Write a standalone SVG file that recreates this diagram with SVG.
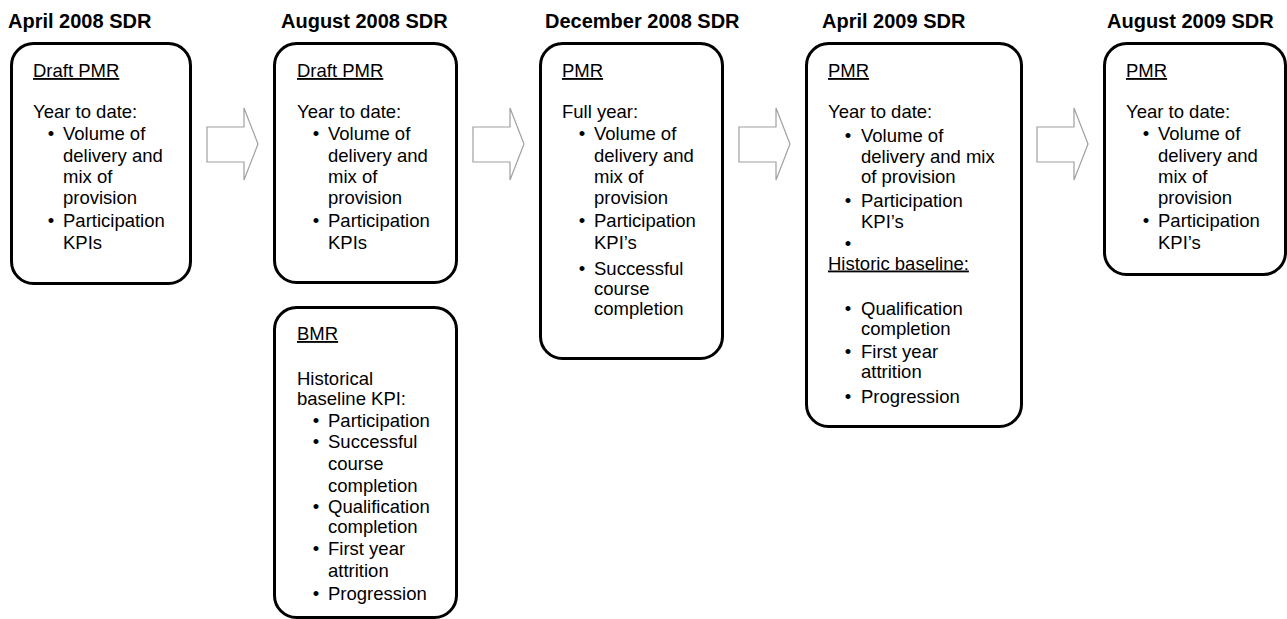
<svg xmlns="http://www.w3.org/2000/svg" width="1287" height="619" viewBox="0 0 1287 619">
  <style>
    .title { font-family: "Liberation Sans", Arial, sans-serif; font-weight: bold; font-size: 20px; fill: #000; }
    .t { font-family: "Liberation Sans", Arial, sans-serif; font-size: 18.5px; fill: #000; }
    .u { text-decoration: underline; }
    .b { text-anchor: middle; }
    .box { fill: #fff; stroke: #000; stroke-width: 3; }
    .arrow { fill: #fff; stroke: #a0a0a0; stroke-width: 1.2; stroke-linejoin: miter; }
  </style>
  <rect width="1287" height="619" fill="#fff"/>

  <!-- stage titles -->
  <g id="titles">
    <text class="title" x="8" y="28">April 2008 SDR</text>
    <text class="title" x="281" y="28">August 2008 SDR</text>
    <text class="title" x="545" y="28">December 2008 SDR</text>
    <text class="title" x="822" y="28">April 2009 SDR</text>
    <text class="title" x="1107" y="28">August 2009 SDR</text>
  </g>

  <!-- block arrows between stages -->
  <g id="connectors">
    <path class="arrow" d="M207,127 H244 V108 L258,144 L244,180 V162 H207 Z"/>
    <path class="arrow" d="M473,127 H510 V108 L524,144 L510,180 V162 H473 Z"/>
    <path class="arrow" d="M739,127 H776 V108 L790,144 L776,180 V162 H739 Z"/>
    <path class="arrow" d="M1037,127 H1074 V108 L1088,144 L1074,180 V162 H1037 Z"/>
  </g>

  <!-- April 2008: draft PMR -->
  <g id="apr2008-pmr">
    <rect class="box" x="11.5" y="43.5" width="179" height="240" rx="22"/>
    <text class="t u" x="33" y="77">Draft PMR</text>
    <text class="t" x="33" y="118">Year to date:</text>
    <text class="t b" x="51" y="140">•</text>
    <text class="t" x="63" y="140">Volume of</text>
    <text class="t" x="63" y="161.5">delivery and</text>
    <text class="t" x="63" y="183">mix of</text>
    <text class="t" x="63" y="204">provision</text>
    <text class="t b" x="51" y="227">•</text>
    <text class="t" x="63" y="227">Participation</text>
    <text class="t" x="63" y="248.5">KPIs</text>
  </g>

  <!-- August 2008: draft PMR -->
  <g id="aug2008-pmr">
    <rect class="box" x="274.5" y="43.5" width="182" height="239" rx="22"/>
    <text class="t u" x="297" y="77">Draft PMR</text>
    <text class="t" x="297" y="118">Year to date:</text>
    <text class="t b" x="316" y="140">•</text>
    <text class="t" x="328" y="140">Volume of</text>
    <text class="t" x="328" y="161.5">delivery and</text>
    <text class="t" x="328" y="183">mix of</text>
    <text class="t" x="328" y="204">provision</text>
    <text class="t b" x="316" y="227">•</text>
    <text class="t" x="328" y="227">Participation</text>
    <text class="t" x="328" y="248.5">KPIs</text>
  </g>

  <!-- August 2008: BMR -->
  <g id="aug2008-bmr">
    <rect class="box" x="274.5" y="307.5" width="182" height="310" rx="22"/>
    <text class="t u" x="297" y="340">BMR</text>
    <text class="t" x="297" y="385">Historical</text>
    <text class="t" x="297" y="405">baseline KPI:</text>
    <text class="t b" x="316" y="426.5">•</text>
    <text class="t" x="328" y="426.5">Participation</text>
    <text class="t b" x="316" y="448">•</text>
    <text class="t" x="328" y="448">Successful</text>
    <text class="t" x="328" y="470">course</text>
    <text class="t" x="328" y="491.5">completion</text>
    <text class="t b" x="316" y="513">•</text>
    <text class="t" x="328" y="513">Qualification</text>
    <text class="t" x="328" y="533">completion</text>
    <text class="t b" x="316" y="555">•</text>
    <text class="t" x="328" y="555">First year</text>
    <text class="t" x="328" y="576.5">attrition</text>
    <text class="t b" x="316" y="600">•</text>
    <text class="t" x="328" y="600">Progression</text>
  </g>

  <!-- December 2008: PMR -->
  <g id="dec2008-pmr">
    <rect class="box" x="540.5" y="43.5" width="182" height="315" rx="22"/>
    <text class="t u" x="562" y="77">PMR</text>
    <text class="t" x="562" y="118">Full year:</text>
    <text class="t b" x="582" y="140">•</text>
    <text class="t" x="594" y="140">Volume of</text>
    <text class="t" x="594" y="161.5">delivery and</text>
    <text class="t" x="594" y="183">mix of</text>
    <text class="t" x="594" y="204">provision</text>
    <text class="t b" x="582" y="227">•</text>
    <text class="t" x="594" y="227">Participation</text>
    <text class="t" x="594" y="248.5">KPI’s</text>
    <text class="t b" x="582" y="275">•</text>
    <text class="t" x="594" y="275">Successful</text>
    <text class="t" x="594" y="295">course</text>
    <text class="t" x="594" y="315">completion</text>
  </g>

  <!-- April 2009: PMR -->
  <g id="apr2009-pmr">
    <rect class="box" x="806.5" y="43.5" width="215" height="383" rx="22"/>
    <text class="t u" x="828" y="77">PMR</text>
    <text class="t" x="828" y="118">Year to date:</text>
    <text class="t b" x="848" y="141.5">•</text>
    <text class="t" x="861" y="141.5">Volume of</text>
    <text class="t" x="861" y="163">delivery and mix</text>
    <text class="t" x="861" y="183">of provision</text>
    <text class="t b" x="848" y="206.5">•</text>
    <text class="t" x="861" y="206.5">Participation</text>
    <text class="t" x="861" y="228">KPI’s</text>
    <text class="t b" x="848" y="249.5">•</text>
    <text class="t u" x="828" y="269.5">Historic baseline:</text>
    <text class="t b" x="848" y="315">•</text>
    <text class="t" x="861" y="315">Qualification</text>
    <text class="t" x="861" y="335">completion</text>
    <text class="t b" x="848" y="358">•</text>
    <text class="t" x="861" y="358">First year</text>
    <text class="t" x="861" y="378">attrition</text>
    <text class="t b" x="848" y="403">•</text>
    <text class="t" x="861" y="403">Progression</text>
  </g>

  <!-- August 2009: PMR -->
  <g id="aug2009-pmr">
    <rect class="box" x="1104.5" y="43.5" width="181" height="231" rx="22"/>
    <text class="t u" x="1126" y="77">PMR</text>
    <text class="t" x="1126" y="118">Year to date:</text>
    <text class="t b" x="1146" y="140">•</text>
    <text class="t" x="1158" y="140">Volume of</text>
    <text class="t" x="1158" y="161.5">delivery and</text>
    <text class="t" x="1158" y="183">mix of</text>
    <text class="t" x="1158" y="204">provision</text>
    <text class="t b" x="1146" y="227">•</text>
    <text class="t" x="1158" y="227">Participation</text>
    <text class="t" x="1158" y="248.5">KPI’s</text>
  </g>
</svg>
